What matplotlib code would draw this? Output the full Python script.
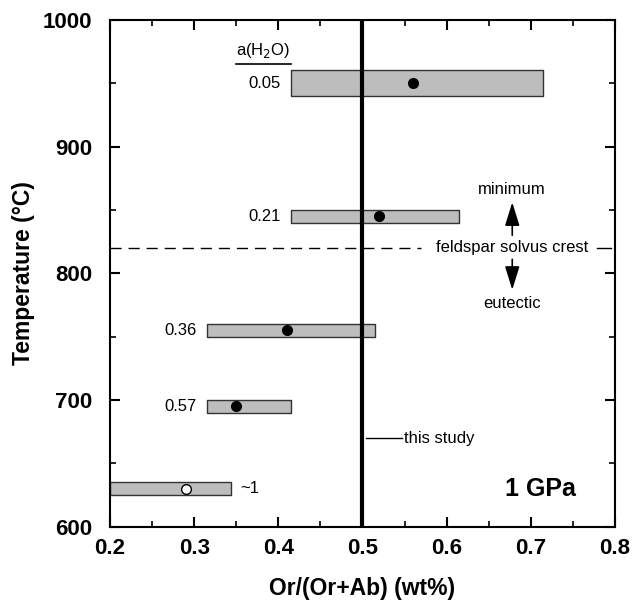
import matplotlib.pyplot as plt
import matplotlib as mpl

mpl.rcParams.update({
    "font.family": ["Liberation Sans", "DejaVu Sans"],
    "axes.linewidth": 1.5,
    "xtick.direction": "in",
    "ytick.direction": "in",
    "xtick.top": True,
    "ytick.right": True,
    "xtick.major.size": 7,
    "ytick.major.size": 7,
    "xtick.minor.size": 4,
    "ytick.minor.size": 4,
    "xtick.major.width": 1.5,
    "ytick.major.width": 1.5,
    "xtick.minor.width": 1.2,
    "ytick.minor.width": 1.2,
})

# ===== data =====
aw_labels = ["0.05", "0.21", "0.36", "0.57", "~1"]
bar_left = [0.415, 0.415, 0.315, 0.315, 0.20]
bar_right = [0.715, 0.615, 0.515, 0.415, 0.344]
t_low = [940, 840, 750, 690, 625]
t_high = [960, 850, 760, 700, 635]
dot_x = [0.56, 0.52, 0.41, 0.35, 0.29]
dot_t = [950, 845, 755, 695, 630]
dot_filled = [True, True, True, True, False]
solvus_t = 820

fig = plt.figure(figsize=(6.32, 6.0), dpi=100)
ax = fig.add_axes([0.174, 0.122, 0.799, 0.845])

for i in range(len(aw_labels)):
    ax.fill_between([bar_left[i], bar_right[i]], t_low[i], t_high[i],
                    facecolor="#bdbdbd", edgecolor="#333333", linewidth=1.0, zorder=2)
    ax.plot(dot_x[i], dot_t[i], "o", ms=7,
            mfc="black" if dot_filled[i] else "white", mec="black", mew=1.0, zorder=4)
    tc = (t_low[i] + t_high[i]) / 2
    if aw_labels[i] == "~1":
        ax.text(bar_right[i] + 0.011, tc, aw_labels[i], ha="left", va="center", fontsize=12)
    else:
        ax.text(bar_left[i] - 0.012, tc, aw_labels[i], ha="right", va="center", fontsize=12)

# a(H2O) header with underline
ax.text(0.382, 976, r"a(H$_2$O)", ha="center", va="center", fontsize=12)
ax.plot([0.35, 0.415], [965, 965], color="black", lw=1.2)

# this study: vertical line at 0.5
ax.axvline(0.5, color="black", lw=3, zorder=3)
ax.plot([0.504, 0.547], [670, 670], color="black", lw=1)
ax.text(0.549, 670, "this study", ha="left", va="center", fontsize=12)

# feldspar solvus crest
ax.plot([0.2, 0.570], [solvus_t, solvus_t], color="black", lw=1, ls=(0, (8, 5)))
ax.plot([0.779, 0.795], [solvus_t, solvus_t], color="black", lw=1)
ax.text(0.678, solvus_t, "feldspar solvus crest", ha="center", va="center", fontsize=12)
arrow = dict(arrowstyle="-|>,head_width=0.28,head_length=0.9", color="black", lw=1.2,
             mutation_scale=16, shrinkA=0, shrinkB=0)
ax.annotate("", xy=(0.678, 856), xytext=(0.678, 830), arrowprops=arrow)
ax.annotate("", xy=(0.678, 787), xytext=(0.678, 811), arrowprops=arrow)
ax.text(0.678, 866, "minimum", ha="center", va="center", fontsize=12)
ax.text(0.678, 776, "eutectic", ha="center", va="center", fontsize=12)

ax.text(0.753, 630, "1 GPa", ha="right", va="center", fontsize=18, weight="bold")

ax.set_xlim(0.2, 0.8)
ax.set_ylim(600, 1000)
ax.set_xticks([0.2, 0.3, 0.4, 0.5, 0.6, 0.7, 0.8])
ax.set_xticks([0.25, 0.35, 0.45, 0.55, 0.65, 0.75], minor=True)
ax.set_yticks([600, 700, 800, 900, 1000])
ax.set_yticks([650, 750, 850, 950], minor=True)
ax.set_xticklabels(["0.2", "0.3", "0.4", "0.5", "0.6", "0.7", "0.8"])
ax.tick_params(which="both", labelsize=16)
ax.tick_params(axis="x", pad=8)
ax.tick_params(axis="y", pad=13)
for lab in ax.get_xticklabels() + ax.get_yticklabels():
    lab.set_fontweight("bold")
ax.set_xlabel("Or/(Or+Ab) (wt%)", fontsize=16.5, weight="bold", labelpad=13)
ax.set_ylabel("Temperature (°C)", fontsize=16.5, weight="bold", labelpad=5)

plt.savefig("out.png", dpi=100)
